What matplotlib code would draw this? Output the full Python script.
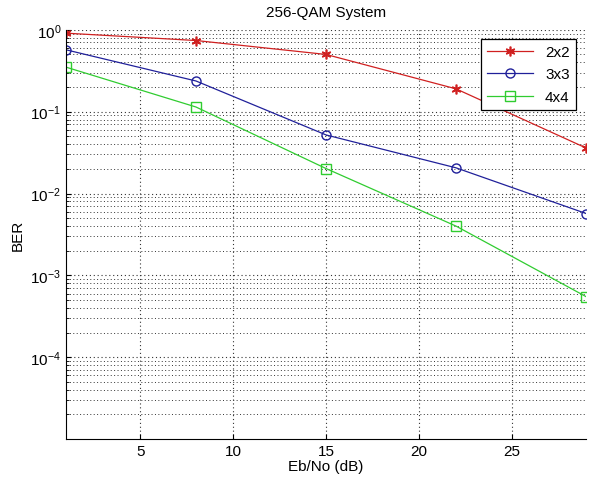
import numpy as np
import matplotlib.pyplot as plt
from matplotlib.ticker import LogLocator, NullFormatter

plt.rcParams['font.family'] = ['Liberation Sans', 'DejaVu Sans']
plt.rcParams['mathtext.fontset'] = 'custom'
plt.rcParams['mathtext.rm'] = 'Liberation Sans'
plt.rcParams['mathtext.default'] = 'regular'

snr = [1, 8, 15, 22, 29]
ber_2x2 = [0.91, 0.74, 0.50, 0.19, 0.036]
ber_3x3 = [0.57, 0.237, 0.052, 0.0206, 0.0057]
ber_4x4 = [0.35, 0.114, 0.0202, 0.0040, 0.00055]
labels = ['2x2', '3x3', '4x4']

fig = plt.figure(figsize=(5.89, 4.89), dpi=100)
ax = fig.add_axes([0.112, 0.100, 0.883, 0.837])

ax.semilogy(snr, ber_2x2, '-', marker=(6, 2, 0), color='#d02020', lw=0.9, ms=7, mew=1.2,
            label=labels[0])
ax.semilogy(snr, ber_3x3, '-o', color='#20209a', lw=0.9, ms=6.5, mfc='none', label=labels[1])
ax.semilogy(snr, ber_4x4, '-s', color='#30cc30', lw=0.9, ms=6.5, mfc='none', label=labels[2])

ax.set_xlim(1, 29)
ax.set_ylim(1e-5, 1)
ax.set_xticks([5, 10, 15, 20, 25])
ax.set_yticks([1e-4, 1e-3, 1e-2, 1e-1, 1])
ax.yaxis.set_minor_locator(LogLocator(base=10, subs=np.arange(2, 10), numticks=20))
ax.yaxis.set_minor_formatter(NullFormatter())

ax.grid(True, which='major', ls=(0, (1, 2.5)), color='0.2', lw=0.8)
ax.grid(True, which='minor', axis='y', ls=(0, (1, 2.5)), color='0.2', lw=0.7)
ax.tick_params(which='both', direction='in', labelsize=11)
ax.spines['right'].set_visible(False)
ax.spines['top'].set_visible(False)

ax.set_title('256-QAM System', fontsize=11, pad=10)
ax.set_xlabel('Eb/No (dB)', fontsize=11, labelpad=1)
ax.set_ylabel('BER', fontsize=11, labelpad=4)

leg = ax.legend(loc='upper right', fontsize=11, fancybox=False, framealpha=1,
                edgecolor='k', borderaxespad=0.6, handlelength=3.0, labelspacing=0.55,
                bbox_to_anchor=(0.998, 1.0))
leg.get_frame().set_linewidth(0.9)

fig.savefig('out.png', dpi=100)
